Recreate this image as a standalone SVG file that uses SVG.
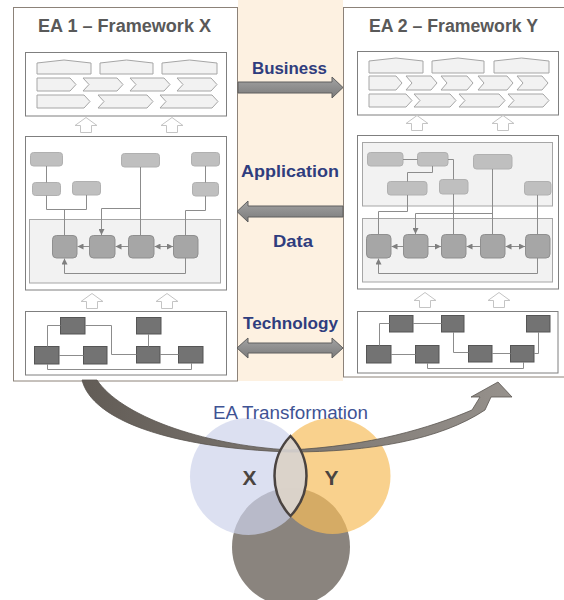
<svg xmlns="http://www.w3.org/2000/svg" width="564" height="600" viewBox="0 0 564 600">
  <style>
    .frame { fill: #ffffff; stroke: #8c8279; stroke-width: 1; }
    .panel { fill: #ffffff; stroke: #7f7f7f; stroke-width: 1; }
    .area { fill: #f2f2f2; stroke: #a6a6a6; stroke-width: 1; }
    .biz { fill: #f2f2f2; stroke: #a6a6a6; stroke-width: 1; }
    .app { fill: #bfbfbf; stroke: #b0b0b0; stroke-width: 1; }
    .dat { fill: #a6a6a6; stroke: #8f8f8f; stroke-width: 1; }
    .tec { fill: #737373; stroke: #555555; stroke-width: 1; }
    .up { fill: #ffffff; stroke: #c4c4c4; stroke-width: 1; }
    .ln { fill: none; stroke: #8c8c8c; stroke-width: 1; }
    .title { font-family: "Liberation Sans", Arial, sans-serif; font-weight: bold; font-size: 18px; fill: #595959; text-anchor: middle; }
    .layer { font-family: "Liberation Sans", Arial, sans-serif; font-weight: bold; font-size: 17px; fill: #2f3d7e; text-anchor: middle; }
    .band-arrow { fill: url(#bandGrad); stroke: #5f5f5f; stroke-width: 1; }
  </style>
  <defs>
    <marker id="tip" viewBox="0 0 6 6" refX="6" refY="3" markerWidth="6" markerHeight="6" markerUnits="userSpaceOnUse" orient="auto-start-reverse">
      <path d="M0,0 L6,3 L0,6 Z" fill="#7f7f7f"/>
    </marker>
    <linearGradient id="bandGrad" x1="0" y1="0" x2="0" y2="1">
      <stop offset="0" stop-color="#a3a3a3"/>
      <stop offset="1" stop-color="#7a7a7a"/>
    </linearGradient>
    <linearGradient id="swoosh" x1="0" y1="0" x2="1" y2="0">
      <stop offset="0" stop-color="#625c56"/>
      <stop offset="1" stop-color="#96918c"/>
    </linearGradient>
  </defs>

  <!-- centre band -->
  <rect x="238" y="0" width="105" height="381" fill="#fdf1e1"/>

  <!-- EA 1 -->
  <g id="ea1">
    <rect class="frame" x="13.5" y="7.5" width="224" height="373.5"/>
    <text class="title" x="124.5" y="32" textLength="173" lengthAdjust="spacingAndGlyphs">EA 1 – Framework X</text>

    <g id="ea1-business">
      <rect class="panel" x="25.5" y="52.5" width="201" height="63.5"/>
      <polygon class="biz" points="37,63 64,60 91,63 91,74 37,74"/>
      <polygon class="biz" points="100,63 126.5,60 153,63 153,74 100,74"/>
      <polygon class="biz" points="162,63 189.5,60 217,63 217,74 162,74"/>
      <polygon class="biz" points="37,78 70,78 76,84.5 70,91 37,91"/>
      <polygon class="biz" points="83,78 117,78 123,84.5 117,91 83,91 89,84.5"/>
      <polygon class="biz" points="130,78 164,78 170,84.5 164,91 130,91 136,84.5"/>
      <polygon class="biz" points="177,78 211,78 217,84.5 211,91 177,91 183,84.5"/>
      <polygon class="biz" points="37,95 84,95 90,101.5 84,108 37,108"/>
      <polygon class="biz" points="98,95 147,95 153,101.5 147,108 98,108 104,101.5"/>
      <polygon class="biz" points="160,95 212,95 218,101.5 212,108 160,108 166,101.5"/>
    </g>

    <polygon class="up" points="86,117.5 97,125.5 91.5,125.5 91.5,132.5 80.5,132.5 80.5,125.5 75,125.5"/>
    <polygon class="up" points="172,117.5 183,125.5 177.5,125.5 177.5,132.5 166.5,132.5 166.5,125.5 161,125.5"/>

    <g id="ea1-application">
      <rect class="panel" x="25.5" y="136.5" width="201" height="153.5"/>
      <rect class="area" x="29.5" y="219.5" width="191" height="63.5"/>
      <rect class="app" x="30.5" y="152.5" width="32" height="13.5" rx="3"/>
      <rect class="app" x="32.5" y="182.5" width="28" height="13" rx="3"/>
      <rect class="app" x="72.5" y="181.5" width="28" height="13.5" rx="3"/>
      <rect class="app" x="121.5" y="153.5" width="38" height="13.5" rx="3"/>
      <rect class="app" x="191.5" y="152.5" width="28" height="13.5" rx="3"/>
      <rect class="app" x="192.5" y="182.5" width="26" height="13.5" rx="3"/>
      <rect class="dat" x="52.5" y="235.5" width="24.5" height="22.5" rx="4"/>
      <rect class="dat" x="89.5" y="235.5" width="25.5" height="22.5" rx="4"/>
      <rect class="dat" x="128.5" y="235.5" width="25.5" height="22.5" rx="4"/>
      <rect class="dat" x="173.5" y="235.5" width="24.5" height="22.5" rx="4"/>
    </g>

    <polygon class="up" points="92,293.5 103,301.5 97.5,301.5 97.5,308.5 86.5,308.5 86.5,301.5 81,301.5"/>
    <polygon class="up" points="167,293.5 178,301.5 172.5,301.5 172.5,308.5 161.5,308.5 161.5,301.5 156,301.5"/>

    <g id="ea1-technology">
      <rect class="panel" x="25.5" y="311.5" width="201" height="63.5"/>
      <rect class="tec" x="60.5" y="317.5" width="24.5" height="16.5"/>
      <rect class="tec" x="136.5" y="317.5" width="24.5" height="16.5"/>
      <rect class="tec" x="34.5" y="346.5" width="24.5" height="17.5"/>
      <rect class="tec" x="83.5" y="346.5" width="23.5" height="17.5"/>
      <rect class="tec" x="136.5" y="346.5" width="23.5" height="16.5"/>
      <rect class="tec" x="178.5" y="346.5" width="24.5" height="16.5"/>
    </g>
  </g>

  <!-- EA 2 -->
  <g id="ea2">
    <rect class="frame" x="343.5" y="7.5" width="230" height="369.5"/>
    <text class="title" x="453.5" y="32" textLength="169" lengthAdjust="spacingAndGlyphs">EA 2 – Framework Y</text>

    <g id="ea2-business">
      <rect class="panel" x="357.5" y="51.5" width="201" height="63.5"/>
      <polygon class="biz" points="369,61 396,58 423,61 423,73 369,73"/>
      <polygon class="biz" points="432,61 458,58 484,61 484,73 432,73"/>
      <polygon class="biz" points="494,61 521.5,58 549,61 549,73 494,73"/>
      <polygon class="biz" points="369,76 396,76 402,83 396,90 369,90"/>
      <polygon class="biz" points="406,76 431,76 437,83 431,90 406,90 412,83"/>
      <polygon class="biz" points="441,76 467,76 473,83 467,90 441,90 447,83"/>
      <polygon class="biz" points="478,76 507,76 513,83 507,90 478,90 484,83"/>
      <polygon class="biz" points="517,76 542,76 548,83 542,90 517,90 523,83"/>
      <polygon class="biz" points="369,94 406,94 412,100.5 406,107 369,107"/>
      <polygon class="biz" points="414,94 450,94 456,100.5 450,107 414,107 420,100.5"/>
      <polygon class="biz" points="459,94 499,94 505,100.5 499,107 459,107 465,100.5"/>
      <polygon class="biz" points="508,94 543,94 549,100.5 543,107 508,107 514,100.5"/>
    </g>

    <polygon class="up" points="417,115.5 428,123.5 422.5,123.5 422.5,130.5 411.5,130.5 411.5,123.5 406,123.5"/>
    <polygon class="up" points="503,115.5 514,123.5 508.5,123.5 508.5,130.5 497.5,130.5 497.5,123.5 492,123.5"/>

    <g id="ea2-application">
      <rect class="panel" x="357.5" y="135.5" width="201" height="153.5"/>
      <rect class="area" x="362.5" y="142.5" width="190" height="63.5"/>
      <rect class="area" x="362.5" y="218.5" width="190" height="63.5"/>
      <rect class="app" x="367.5" y="152.5" width="35.5" height="13.5" rx="3"/>
      <rect class="app" x="417.5" y="152.5" width="30.5" height="13.5" rx="3"/>
      <rect class="app" x="473.5" y="154.5" width="38.5" height="14.5" rx="3"/>
      <rect class="app" x="387.5" y="181.5" width="39.5" height="13.5" rx="3"/>
      <rect class="app" x="439.5" y="179.5" width="28.5" height="14.5" rx="3"/>
      <rect class="app" x="524.5" y="181.5" width="26.5" height="13.5" rx="3"/>
      <rect class="dat" x="366.5" y="234.5" width="24.5" height="23.5" rx="4"/>
      <rect class="dat" x="403.5" y="234.5" width="24.5" height="23.5" rx="4"/>
      <rect class="dat" x="441.5" y="234.5" width="24.5" height="23.5" rx="4"/>
      <rect class="dat" x="480.5" y="234.5" width="24.5" height="23.5" rx="4"/>
      <rect class="dat" x="525.5" y="234.5" width="24.5" height="23.5" rx="4"/>
    </g>

    <polygon class="up" points="425,292.5 436,300.5 430.5,300.5 430.5,307.5 419.5,307.5 419.5,300.5 414,300.5"/>
    <polygon class="up" points="499,292.5 510,300.5 504.5,300.5 504.5,307.5 493.5,307.5 493.5,300.5 488,300.5"/>

    <g id="ea2-technology">
      <rect class="panel" x="357.5" y="311.5" width="200.5" height="61.5"/>
      <rect class="tec" x="389.5" y="315.5" width="23.5" height="16.5"/>
      <rect class="tec" x="441.5" y="315.5" width="22.5" height="16.5"/>
      <rect class="tec" x="526.5" y="315.5" width="23.5" height="16.5"/>
      <rect class="tec" x="366.5" y="345.5" width="24.5" height="17.5"/>
      <rect class="tec" x="415.5" y="345.5" width="23.5" height="17.5"/>
      <rect class="tec" x="468.5" y="345.5" width="23.5" height="16.5"/>
      <rect class="tec" x="510.5" y="345.5" width="23.5" height="16.5"/>
    </g>
  </g>

  <!-- wiring inside the two architectures -->
  <g id="connectors">
    <!-- EA 1 application / data -->
    <path class="ln" d="M46.5,166 V182.5"/>
    <path class="ln" d="M46.5,195.5 V209.5 H86.5 V195"/>
    <path class="ln" d="M64.5,209.5 V235.5"/>
    <path class="ln" d="M140.5,167 V235.5"/>
    <path class="ln" d="M140.5,208.5 H101.5 V235" marker-end="url(#tip)"/>
    <path class="ln" d="M205.5,166 V182.5"/>
    <path class="ln" d="M205.5,196 V210.5 H185.5 V235.5"/>
    <path class="ln" d="M89.5,246.5 H77.5" marker-end="url(#tip)"/>
    <path class="ln" d="M128.5,246.5 H115.5" marker-end="url(#tip)"/>
    <path class="ln" d="M154.5,246.5 H173" marker-start="url(#tip)" marker-end="url(#tip)"/>
    <path class="ln" d="M185.5,258 V273.5 H64.5 V258.5" marker-end="url(#tip)"/>

    <!-- EA 1 technology -->
    <path class="ln" d="M60.5,325.5 H47.5 V346.5"/>
    <path class="ln" d="M85,325.5 H111.5 V354.5 H136.5"/>
    <path class="ln" d="M59,355.5 H83.5"/>
    <path class="ln" d="M148.5,334 V346.5"/>
    <path class="ln" d="M160,354.5 H178.5"/>
    <path class="ln" d="M47.5,364 V369.5 H191.5 V363"/>

    <!-- EA 2 application / data -->
    <path class="ln" d="M403,159.5 H417.5"/>
    <path class="ln" d="M448,159.5 H453.5 V179.5"/>
    <path class="ln" d="M453.5,194 V234.5"/>
    <path class="ln" d="M432.5,166 V172.5 H407.5 V181.5"/>
    <path class="ln" d="M407.5,195 V211.5 H378.5 V234.5"/>
    <path class="ln" d="M492.5,169 V234.5"/>
    <path class="ln" d="M492.5,213.5 H415.5 V234" marker-end="url(#tip)"/>
    <path class="ln" d="M537.5,195 V234.5"/>
    <path class="ln" d="M403.5,246.5 H391.5" marker-end="url(#tip)"/>
    <path class="ln" d="M428,246.5 H441" marker-end="url(#tip)"/>
    <path class="ln" d="M480.5,246.5 H466.5" marker-end="url(#tip)"/>
    <path class="ln" d="M505.5,246.5 H525" marker-start="url(#tip)" marker-end="url(#tip)"/>
    <path class="ln" d="M537.5,258 V273.5 H378.5 V258.5" marker-end="url(#tip)"/>

    <!-- EA 2 technology -->
    <path class="ln" d="M389.5,323.5 H379.5 V345.5"/>
    <path class="ln" d="M413,323.5 H441.5"/>
    <path class="ln" d="M453.5,332 V352.5 H468.5"/>
    <path class="ln" d="M391,354.5 H415.5"/>
    <path class="ln" d="M492,353.5 H510.5"/>
    <path class="ln" d="M534,353.5 H538.5 V332"/>
    <path class="ln" d="M427.5,363 V368.5 H523.5 V362"/>

    <!-- layer exchange arrows across the band -->
    <polygon class="band-arrow" points="238,82 332,82 332,77 343,87.5 332,98 332,93 238,93"/>
    <polygon class="band-arrow" points="343,206 248,206 248,201 237,211.5 248,222 248,217 343,217"/>
    <polygon class="band-arrow" points="237,348 248,338 248,343 332,343 332,338 343,348 332,358 332,353 248,353 248,358"/>
  </g>

  <!-- layer labels -->
  <text class="layer" x="289.5" y="74" textLength="75" lengthAdjust="spacingAndGlyphs">Business</text>
  <text class="layer" x="290" y="177" textLength="98" lengthAdjust="spacingAndGlyphs">Application</text>
  <text class="layer" x="293" y="247" textLength="40" lengthAdjust="spacingAndGlyphs">Data</text>
  <text class="layer" x="290.5" y="329" textLength="95" lengthAdjust="spacingAndGlyphs">Technology</text>

  <!-- transformation venn -->
  <g id="venn">
    <circle cx="291" cy="547" r="59" fill="#8a847e"/>
    <circle cx="248.5" cy="476.5" r="58.5" fill="rgb(204,210,235)" fill-opacity="0.69"/>
    <circle cx="332.5" cy="476" r="58" fill="rgb(246,188,90)" fill-opacity="0.69"/>
  </g>

  <!-- transformation arrow from EA 1 to EA 2 -->
  <g id="transformation-arrow">
    <path d="M82,380 C92,420 170,448 290,452 C370,452 440,440 485,410 L491,397 L512,397 L498,382 L471,397 L480,397 L472,410 C430,428 370,446 290,450 C200,445 120,415 97,380 Z" fill="url(#swoosh)" stroke="#5a5550" stroke-width="0.8"/>
  </g>

  <path id="lens" d="M290.5,436 A58,58 0 0 0 290.5,516 A58,58 0 0 0 290.5,436 Z" fill="#d8d4d2" fill-opacity="0.9" stroke="#4a4340" stroke-width="2.5"/>

  <text x="290.5" y="419" font-family="'Liberation Sans', Arial, sans-serif" font-size="17.5" fill="#3f5394" text-anchor="middle" textLength="155" lengthAdjust="spacingAndGlyphs">EA Transformation</text>
  <text x="249.5" y="485" font-family="'Liberation Sans', Arial, sans-serif" font-size="21" font-weight="bold" fill="#4a4440" text-anchor="middle">X</text>
  <text x="331.5" y="485" font-family="'Liberation Sans', Arial, sans-serif" font-size="21" font-weight="bold" fill="#4a4440" text-anchor="middle">Y</text>
</svg>
